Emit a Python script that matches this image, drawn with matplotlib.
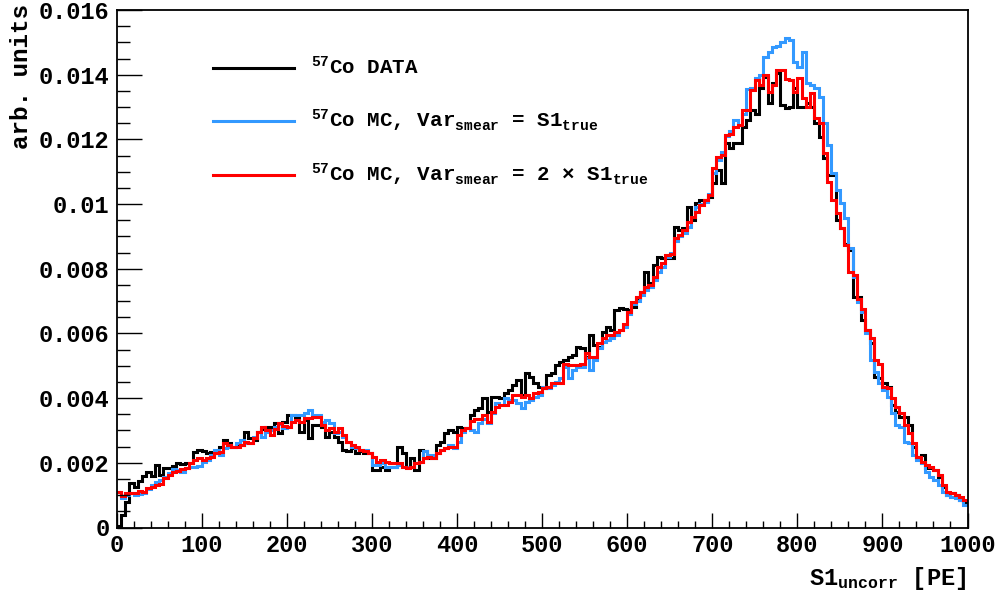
import numpy as np
import matplotlib
matplotlib.use("Agg")
import matplotlib.pyplot as plt
from matplotlib.ticker import MultipleLocator, FuncFormatter
from matplotlib.lines import Line2D

plt.rcParams['font.family'] = ['Liberation Mono', 'DejaVu Sans']
plt.rcParams['font.weight'] = 'bold'
plt.rcParams['mathtext.fontset'] = 'custom'
plt.rcParams['mathtext.rm'] = 'Liberation Mono:bold'
plt.rcParams['mathtext.it'] = 'Liberation Mono:bold'
plt.rcParams['mathtext.bf'] = 'Liberation Mono:bold'
plt.rcParams['mathtext.default'] = 'rm'

# ---------------- data (bin contents, units of 1e-3) ----------------
x_range = (0, 1000)

data_co57 = [
    0.05, 0.40, 0.80, 1.37, 1.26, 1.45, 1.60, 1.73, 1.60, 1.93,
    1.62, 1.83, 1.85, 1.90, 1.98, 1.95, 1.98, 2.00, 2.34, 2.40,
    2.35, 2.30, 2.34, 2.30, 2.50, 2.70, 2.60, 2.50, 2.55, 2.55,
    2.96, 2.76, 2.72, 2.96, 3.06, 3.10, 3.12, 3.22, 2.91, 3.27,
    3.48, 3.48, 3.38, 2.96, 3.32, 2.76, 3.17, 3.17, 3.12, 2.81,
    2.96, 2.81, 2.65, 2.40, 2.35, 2.45, 2.29, 2.35, 2.29, 2.29,
    1.78, 1.78, 1.88, 1.78, 1.88, 1.88, 2.50, 2.29, 1.88, 2.14,
    1.78, 2.40, 2.35, 2.14, 2.14, 2.55, 2.65, 2.91, 3.01, 2.96,
    3.12, 3.07, 3.07, 3.48, 3.63, 3.68, 3.99, 3.58, 4.04, 4.04,
    3.99, 4.15, 4.25, 4.40, 4.56, 4.10, 4.77, 4.66, 4.46, 4.35,
    4.30, 4.71, 4.77, 5.02, 5.13, 5.18, 5.28, 5.33, 5.59, 5.54,
    5.28, 5.95, 5.64, 5.59, 6.05, 6.21, 6.11, 6.72, 6.78, 6.77,
    6.72, 6.83, 7.10, 7.29, 7.91, 7.55, 8.11, 8.37, 8.32, 8.32,
    8.32, 9.30, 9.20, 9.25, 9.92, 9.51, 10.02, 10.12, 10.12, 10.23,
    10.64, 11.05, 10.64, 11.88, 11.72, 11.88, 11.88, 12.39, 12.60, 12.91,
    12.80, 13.58, 13.94, 13.11, 13.73, 14.04, 13.06, 12.96, 13.01, 13.58,
    13.01, 13.01, 13.11, 13.00, 12.50, 12.08, 11.41, 10.90, 10.90, 9.51,
    9.25, 8.78, 8.58, 7.14, 7.14, 6.42, 6.10, 5.69, 4.66, 4.61,
    4.46, 4.35, 3.79, 3.58, 3.43, 3.43, 3.17, 2.50, 2.19, 2.24,
    1.83, 1.83, 1.78, 1.57, 1.26, 1.00, 1.06, 1.00, 0.85, 0.80,
]

mc_smear_1 = [
    1.10, 0.90, 1.00, 1.06, 1.00, 1.03, 1.06, 1.20, 1.31, 1.40,
    1.47, 1.57, 1.70, 1.80, 1.78, 1.73, 1.83, 1.88, 1.88, 1.90,
    2.03, 2.09, 2.24, 2.40, 2.24, 2.45, 2.50, 2.50, 2.60, 2.70,
    2.60, 2.60, 2.80, 2.96, 2.80, 2.96, 3.00, 3.10, 3.20, 3.07,
    3.10, 3.48, 3.48, 3.48, 3.55, 3.63, 3.48, 3.48, 3.27, 3.32,
    3.22, 2.91, 2.96, 2.81, 2.65, 2.50, 2.45, 2.40, 2.40, 2.29,
    1.93, 1.93, 1.98, 1.88, 1.88, 1.88, 1.93, 1.88, 1.88, 1.88,
    1.98, 2.04, 2.35, 2.24, 2.24, 2.29, 2.40, 2.45, 2.55, 2.45,
    2.65, 2.96, 3.07, 3.01, 2.96, 3.22, 3.37, 3.22, 3.53, 3.84,
    3.79, 3.99, 3.94, 3.94, 3.84, 3.68, 3.89, 3.94, 4.04, 4.10,
    4.35, 4.30, 4.40, 4.51, 4.61, 4.97, 4.61, 4.87, 4.97, 4.97,
    5.23, 4.87, 5.18, 5.54, 5.74, 5.80, 5.85, 5.95, 6.10, 6.20,
    6.60, 6.90, 7.00, 7.20, 7.35, 7.45, 7.65, 7.90, 8.05, 8.35,
    8.50, 8.85, 9.00, 9.10, 9.30, 9.60, 9.90, 10.00, 10.05, 10.30,
    10.95, 11.35, 11.60, 12.10, 12.25, 12.60, 12.45, 12.80, 13.55, 13.60,
    13.90, 14.00, 14.55, 14.70, 14.85, 14.90, 15.02, 15.12, 15.07, 14.40,
    14.25, 14.71, 13.73, 13.68, 13.58, 13.30, 12.50, 11.83, 10.95, 10.43,
    10.02, 9.56, 8.63, 7.75, 6.98, 6.67, 6.00, 5.18, 4.82, 4.46,
    4.25, 4.05, 3.53, 3.17, 3.12, 2.65, 2.60, 2.24, 2.09, 1.98,
    1.72, 1.57, 1.47, 1.31, 1.11, 1.00, 0.95, 0.90, 0.85, 0.69,
]

mc_smear_2 = [
    1.09, 0.98, 1.06, 1.06, 1.06, 1.12, 1.10, 1.21, 1.25, 1.31,
    1.35, 1.52, 1.62, 1.73, 1.75, 1.80, 1.83, 1.98, 2.09, 2.14,
    2.09, 2.14, 2.19, 2.29, 2.33, 2.60, 2.55, 2.50, 2.50, 2.55,
    2.65, 2.60, 2.76, 2.96, 3.12, 3.00, 2.86, 3.05, 3.22, 3.15,
    3.12, 3.27, 3.32, 3.27, 3.38, 3.40, 3.43, 3.43, 3.17, 3.02,
    3.07, 2.96, 3.07, 2.86, 2.65, 2.55, 2.50, 2.40, 2.35, 2.29,
    2.19, 2.04, 2.09, 2.04, 1.98, 1.98, 1.98, 1.88, 1.83, 1.88,
    1.98, 2.04, 2.14, 2.19, 2.14, 2.29, 2.40, 2.45, 2.50, 2.50,
    2.86, 3.01, 3.07, 3.30, 3.37, 3.37, 3.48, 3.27, 3.58, 3.73,
    3.79, 3.79, 3.89, 4.10, 4.10, 4.04, 4.10, 3.99, 4.15, 4.20,
    4.30, 4.35, 4.46, 4.46, 4.46, 5.07, 5.02, 5.02, 5.02, 5.07,
    5.38, 5.28, 5.28, 5.69, 5.85, 5.95, 5.95, 6.03, 6.10, 6.30,
    6.67, 6.98, 7.14, 7.29, 7.44, 7.50, 7.75, 8.06, 8.17, 8.42,
    8.45, 8.94, 9.04, 9.20, 9.45, 9.60, 9.76, 9.97, 10.12, 10.28,
    11.10, 11.46, 11.51, 12.13, 12.18, 12.39, 12.44, 12.91, 12.91, 13.53,
    13.83, 13.68, 13.99, 13.47, 13.68, 14.14, 14.14, 13.88, 13.83, 13.47,
    13.90, 13.27, 13.01, 13.42, 12.65, 12.50, 11.57, 10.69, 10.12, 9.71,
    9.25, 8.73, 7.91, 7.80, 7.08, 6.77, 6.10, 5.85, 5.18, 5.07,
    4.35, 4.30, 3.99, 3.73, 3.53, 3.17, 2.91, 2.60, 2.19, 2.04,
    1.93, 1.88, 1.78, 1.62, 1.31, 1.11, 1.06, 1.00, 0.95, 0.85,
]

labels = [
    "$^{57}$Co DATA",
    "$^{57}$Co MC, Var$_{smear}$ = S1$_{true}$",
    "$^{57}$Co MC, Var$_{smear}$ = 2 \u00d7 S1$_{true}$",
]
colors = ["#000000", "#3399ff", "#ff0000"]
series = [data_co57, mc_smear_1, mc_smear_2]

# ---------------- figure ----------------
W, H = 1002, 594
fig = plt.figure(figsize=(W / 100, H / 100), dpi=100)
x0, x1, ytop, ybot = 116.5, 967.5, 10.0, 527.5
ax = fig.add_axes([x0 / W, 1 - ybot / H, (x1 - x0) / W, (ybot - ytop) / H])

for vals, col in zip(series, colors):
    v = np.asarray(vals) * 1e-3
    edges = np.linspace(x_range[0], x_range[1], len(v) + 1)
    ax.stairs(v, edges, baseline=None, color=col, linewidth=2.2)

ax.set_xlim(*x_range)
ax.set_ylim(0, 0.016)

ax.xaxis.set_major_locator(MultipleLocator(100))
ax.xaxis.set_minor_locator(MultipleLocator(20))
ax.yaxis.set_major_locator(MultipleLocator(0.002))
ax.yaxis.set_minor_locator(MultipleLocator(0.0005))
ax.yaxis.set_major_formatter(FuncFormatter(lambda v, p: "0" if abs(v) < 1e-12 else "%g" % round(v, 6)))
ax.xaxis.set_major_formatter(FuncFormatter(lambda v, p: "%d" % round(v)))

ax.tick_params(axis='both', which='both', direction='in', top=False, right=False, width=1.0)
ax.tick_params(axis='x', which='major', length=10.8, pad=5, labelsize=17)
ax.tick_params(axis='x', which='minor', length=5.4)
ax.tick_params(axis='y', which='major', length=18, pad=5, labelsize=17)
ax.tick_params(axis='y', which='minor', length=9)
for sp in ax.spines.values():
    sp.set_linewidth(1.3)

# axis titles (ROOT style: aligned to axis end)
fig.text(22 / W, 1 - 4 / H, "arb. units", rotation=90, ha='center', va='top', fontsize=17.5, fontweight='bold')
fig.text(966 / W, 1 - 578 / H, "S1$_{uncorr}$ [PE]", ha='right', va='center', fontsize=17, fontweight='bold')

# legend (no frame)
leg_y = [67.5, 121.0, 175.0]
for lab, col, yy in zip(labels, colors, leg_y):
    fig.add_artist(Line2D([213 / W, 294 / W], [1 - yy / H, 1 - yy / H], color=col, linewidth=2.2,
                          transform=fig.transFigure))
    fig.text(311 / W, 1 - (yy + 6.5) / H, lab, ha='left', va='baseline', fontsize=15, fontweight='bold')

fig.savefig("out.png", dpi=100)
